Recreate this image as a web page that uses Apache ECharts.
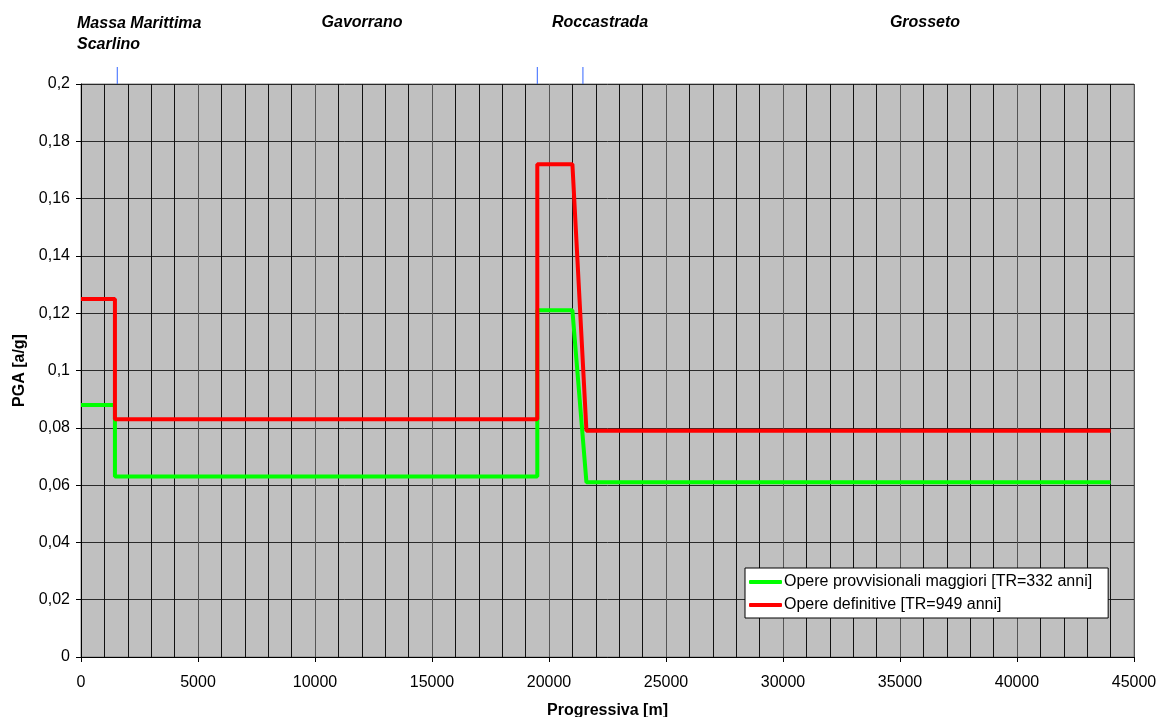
<!DOCTYPE html>
<html>
<head>
<meta charset="utf-8">
<script src="https://cdn.jsdelivr.net/npm/echarts@6/dist/echarts.min.js"></script>
<style>
html,body{margin:0;padding:0;background:#fff;}
#chart{width:1160px;height:717px;}
</style>
</head>
<body>
<div id="chart"></div>
<script>
// Data
var xProgressiva = [0, 1450, 1450, 19500, 19500, 21000, 21600, 44000];
var pgaProvvisionali = [0.088, 0.088, 0.063, 0.063, 0.121, 0.121, 0.061, 0.061];
var pgaDefinitive = [0.125, 0.125, 0.083, 0.083, 0.172, 0.172, 0.079, 0.079];
var boundaries = [1550, 19500, 21450];
var seriesNames = ['Opere provvisionali maggiori [TR=332 anni]', 'Opere definitive [TR=949 anni]'];
var comuniLabels = ['Massa Marittima\nScarlino', 'Gavorrano', 'Roccastrada', 'Grosseto'];
var xAxisName = 'Progressiva [m]';
var yAxisName = 'PGA [a/g]';

var FONT = '"Liberation Sans", Arial, sans-serif';

function pairs(xs, ys) {
  return xs.map(function (x, i) { return [x, ys[i]]; });
}

var chart = echarts.init(document.getElementById('chart'), null, {renderer: 'canvas'});

var option = {
  animation: false,
  backgroundColor: '#ffffff',
  textStyle: {fontFamily: FONT},
  grid: {
    left: 81, right: 26, top: 84, bottom: 60,
    outerBoundsMode: 'none', containLabel: false,
    show: true, backgroundColor: '#c0c0c0', borderColor: '#808080', borderWidth: 1
  },
  xAxis: {
    type: 'value', min: 0, max: 45000, interval: 5000,
    name: xAxisName, nameLocation: 'middle', nameGap: 46,
    nameTextStyle: {fontFamily: FONT, fontSize: 16, fontWeight: 'bold', color: '#000'},
    axisLine: {show: true, onZero: false, lineStyle: {color: '#000', width: 1}},
    axisTick: {show: true, length: 5, lineStyle: {color: '#000'}},
    axisLabel: {margin: 18, fontFamily: FONT, fontSize: 16, color: '#000',
      formatter: function (v) { return String(v); }},
    splitLine: {show: true, lineStyle: {color: '#555', width: 1}},
    minorTick: {show: false, splitNumber: 5},
    minorSplitLine: {show: true, lineStyle: {color: '#111', width: 1}}
  },
  yAxis: {
    type: 'value', min: 0, max: 0.2, interval: 0.02,
    name: yAxisName, nameLocation: 'middle', nameGap: 53,
    nameTextStyle: {fontFamily: FONT, fontSize: 16, fontWeight: 'bold', color: '#000'},
    axisLine: {show: true, lineStyle: {color: '#000', width: 1}},
    axisTick: {show: true, length: 5, lineStyle: {color: '#000'}},
    axisLabel: {margin: 11, fontFamily: FONT, fontSize: 16, color: '#000',
      formatter: function (v) {
        if (v === 0) return '0';
        return String(parseFloat(v.toFixed(2))).replace('.', ',');
      }},
    splitLine: {show: true, lineStyle: {color: '#2a2a2a', width: 1}}
  },
  legend: {
    left: 745, top: 568, orient: 'vertical',
    backgroundColor: '#ffffff', borderColor: '#000', borderWidth: 1,
    padding: [6, 16, 5, 4], itemGap: 7, itemWidth: 33, itemHeight: 4,
    icon: 'roundRect',
    textStyle: {fontFamily: FONT, fontSize: 16, color: '#000', padding: [0, 0, 0, -3]},
    data: seriesNames
  },
  graphic: [
    {type: 'text', left: 77, top: 13, style: {text: comuniLabels[0], font: 'italic bold 16px ' + FONT, fill: '#000', lineHeight: 21}},
    {type: 'text', x: 362, y: 23, style: {text: comuniLabels[1], font: 'italic bold 16px ' + FONT, fill: '#000', align: 'center', verticalAlign: 'middle'}},
    {type: 'text', x: 600, y: 23, style: {text: comuniLabels[2], font: 'italic bold 16px ' + FONT, fill: '#000', align: 'center', verticalAlign: 'middle'}},
    {type: 'text', x: 925, y: 23, style: {text: comuniLabels[3], font: 'italic bold 16px ' + FONT, fill: '#000', align: 'center', verticalAlign: 'middle'}}
  ],
  series: [
    {
      name: seriesNames[0], type: 'line', data: pairs(xProgressiva, pgaProvvisionali),
      showSymbol: false, symbol: 'none', color: '#00ff00',
      lineStyle: {color: '#00ff00', width: 4}, z: 3
    },
    {
      name: seriesNames[1], type: 'line', data: pairs(xProgressiva, pgaDefinitive),
      showSymbol: false, symbol: 'none', color: '#ff0000',
      lineStyle: {color: '#ff0000', width: 4}, z: 4
    },
    {
      name: 'confini', type: 'custom', clip: false, silent: true,
      data: boundaries.map(function (b) { return [b, 0.2]; }),
      renderItem: function (params, api) {
        var p = api.coord([api.value(0), api.value(1)]);
        return {
          type: 'line',
          shape: {x1: p[0], y1: p[1] - 17, x2: p[0], y2: p[1]},
          style: {stroke: '#3366ff', lineWidth: 1}
        };
      },
      z: 5
    }
  ]
};

chart.setOption(option);
</script>
</body>
</html>
